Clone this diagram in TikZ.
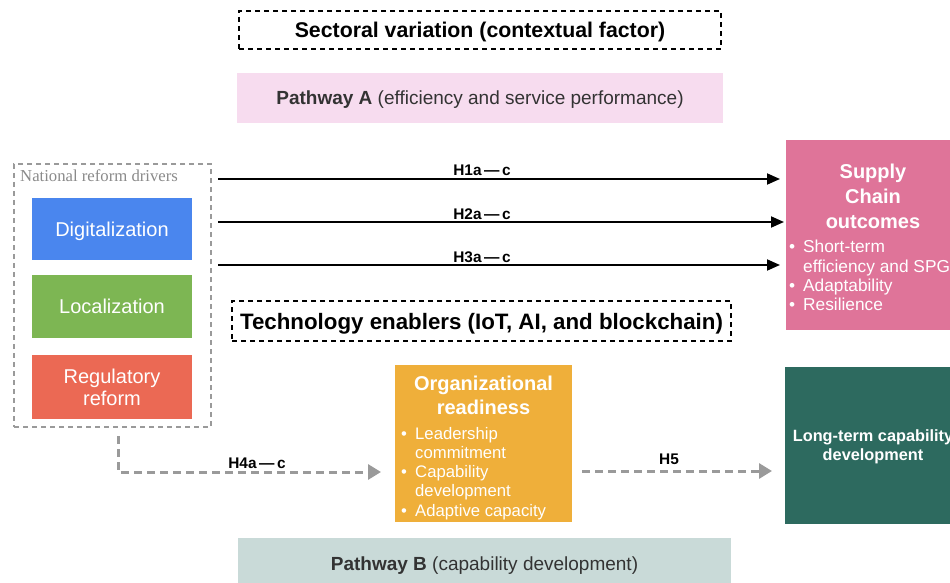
\documentclass[tikz,border=0pt]{standalone}
\usepackage{fontspec}
\setmainfont{Liberation Sans}
\newfontfamily\serifface{Liberation Serif}
\usetikzlibrary{arrows.meta}

\definecolor{pathApink}{HTML}{F7DCEF}
\definecolor{pathBteal}{HTML}{C9DAD8}
\definecolor{digblue}{HTML}{4A86EE}
\definecolor{locgreen}{HTML}{7DB653}
\definecolor{regred}{HTML}{EB6954}
\definecolor{scpink}{HTML}{DF7499}
\definecolor{orgorange}{HTML}{EFAF3A}
\definecolor{ltteal}{HTML}{2D6A5F}
\definecolor{linkgray}{HTML}{9A9A9A}
\definecolor{labelgray}{HTML}{8A8A8A}
\definecolor{pathtext}{HTML}{333333}

\newcommand\bul{\makebox[14pt][l]{•}}
\newcommand\fs[2]{\fontsize{#1}{#2}\selectfont}

\tikzset{
  plainbox/.style={rectangle, inner sep=0pt, outer sep=0pt},
  dashbox/.style={plainbox, draw=black, line width=1.8pt, dash pattern=on 5pt off 4pt,
                  font=\fs{21.3}{25}\bfseries, text depth=0pt},
  bandbox/.style={plainbox, text=pathtext, font=\fs{19}{22}, text depth=0pt},
  driverbox/.style={plainbox, text=white, minimum width=160pt, font=\fs{20}{23}, align=center},
  outbox/.style={plainbox, text=white},
  hlabel/.style={font=\fs{15.4}{18}\bfseries, inner sep=0pt},
  solidarrow/.style={line width=1.8pt, -{Triangle[length=13pt,width=11pt]}},
  grayarrow/.style={draw=linkgray, line width=3pt, dash pattern=on 8pt off 5pt,
                    -{Triangle[length=13pt,width=15pt,fill=linkgray]}},
}

\begin{document}
\begin{tikzpicture}[x=1pt,y=-1pt]
  \useasboundingbox (0,0) rectangle (950,583);
  \clip (0,0) rectangle (950,583);

  % contextual factor and pathway bands
  \node[dashbox, minimum width=482pt, minimum height=38pt] (sect) at (480,30)
    {Sectoral variation (contextual factor)};
  \node[bandbox, fill=pathApink, minimum width=486pt, minimum height=50pt] (pathA) at (480,98)
    {\textbf{Pathway A} (efficiency and service performance)};
  \node[bandbox, fill=pathBteal, minimum width=493pt, minimum height=52pt] (pathB) at (484.5,564)
    {\textbf{Pathway B} (capability development)};

  % national reform drivers
  \node[plainbox, draw=linkgray, line width=1.8pt, dash pattern=on 5pt off 4pt,
        minimum width=197pt, minimum height=263pt] (drivers) at (112.5,295.5) {};
  \node[anchor=north west, inner sep=0pt, text=labelgray, font=\serifface\fs{16.7}{19}]
    (driverslabel) at (20,170) {National reform drivers};
  \node[driverbox, fill=digblue, minimum height=62pt, text depth=0pt] (dig) at (112,229) {Digitalization};
  \node[driverbox, fill=locgreen, minimum height=63pt] (loc) at (112,306.5) {Localization};
  \node[driverbox, fill=regred, minimum height=64pt] (reg) at (112,387) {Regulatory\\[-1pt]reform};

  % outcomes
  \node[outbox, fill=scpink, minimum width=174pt, minimum height=190pt] (sc) at (873,235) {};
  \node[text=white, align=center, inner sep=0pt, font=\fs{20}{25}\bfseries]
    (sctitle) at (873,196) {Supply\\Chain\\outcomes};
  \node[anchor=north west, text=white, align=left, inner sep=0pt, font=\fs{17.3}{19.3}]
    (scitems) at (789,240) {\bul Short-term\\\hspace*{14pt}efficiency and SPG\\\bul Adaptability\\\bul Resilience};

  \node[dashbox, minimum width=499pt, minimum height=40pt, font=\fs{22.3}{26}\bfseries] (tech) at (481.5,321)
    {Technology enablers (IoT, AI, and blockchain)};

  \node[outbox, fill=orgorange, minimum width=177pt, minimum height=157pt] (org) at (483.5,443.5) {};
  \node[text=white, align=center, inner sep=0pt, font=\fs{20}{24}\bfseries]
    (orgtitle) at (483.5,395) {Organizational\\readiness};
  \node[anchor=north west, text=white, align=left, inner sep=0pt, font=\fs{16.7}{19.2}]
    (orgitems) at (401,427) {\bul Leadership\\\hspace*{14pt}commitment\\\bul Capability\\\hspace*{14pt}development\\\bul Adaptive capacity};

  \node[outbox, fill=ltteal, minimum width=176pt, minimum height=157pt] (lt) at (873,445.5) {};
  \node[text=white, align=center, inner sep=0pt, font=\fs{16.3}{19}\bfseries]
    (lttext) at (873,447) {Long-term capability\\development};

  % hypothesised paths
  \coordinate (h1) at (0,179);
  \coordinate (h2) at (0,222);
  \coordinate (h3) at (0,265);
  \draw[solidarrow, shorten <=7pt, shorten >=6pt] (drivers.east |- h1) -- (sc.west |- h1);
  \draw[solidarrow, shorten <=7pt, shorten >=2pt] (drivers.east |- h2) -- (sc.west |- h2);
  \draw[solidarrow, shorten <=7pt, shorten >=6pt] (drivers.east |- h3) -- (sc.west |- h3);
  \node[hlabel] (h1lab) at (482,170) {H1a\,—\,c};
  \node[hlabel] (h2lab) at (482,214) {H2a\,—\,c};
  \node[hlabel] (h3lab) at (482,257) {H3a\,—\,c};

  \coordinate (h4) at (118,472);
  \coordinate (h5) at (0,471);
  \draw[grayarrow] ([yshift=-9pt]drivers.south -| h4) |- ([xshift=-14pt]org.west |- h4);
  \draw[grayarrow] ([xshift=10pt]org.east |- h5) -- ([xshift=-13pt]lt.west |- h5);
  \node[hlabel] (h4lab) at (257,463) {H4a\,—\,c};
  \node[hlabel] (h5lab) at (669,459) {H5};
\end{tikzpicture}
\end{document}
